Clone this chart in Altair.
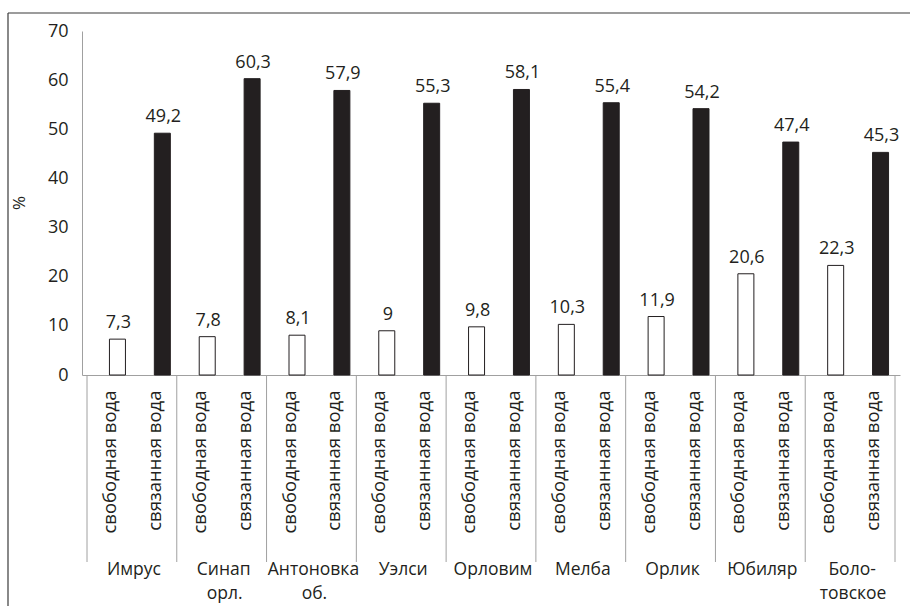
import altair as alt
import pandas as pd

# Apple varieties (two-line names use "\n")
varieties = ["Имрус", "Синап\nорл.", "Антоновка\nоб.", "Уэлси", "Орловим",
             "Мелба", "Орлик", "Юбиляр", "Боло-\nтовское"]
water_types = ["свободная вода", "связанная вода"]
free_water = [7.3, 7.8, 8.1, 9, 9.8, 10.3, 11.9, 20.6, 22.3]
bound_water = [49.2, 60.3, 57.9, 55.3, 58.1, 55.4, 54.2, 47.4, 45.3]

W, H = 818, 344
FONT = "Open Sans"
AXIS_GRAY = "#a0a0a0"
INK = "#231f20"

rows = []
for g, name in enumerate(varieties):
    for k, (wt, val) in enumerate(zip(water_types, (free_water[g], bound_water[g]))):
        rows.append({"pos": 2 * g + k + 0.5, "variety": name, "kind": wt, "value": val})
bars_df = pd.DataFrame(rows)

# variety names split into first and second line
name_lines = [v.split("\n") for v in varieties]
groups_df = pd.DataFrame({
    "center": [2 * g + 1 for g in range(len(varieties))],
    "line1": [p[0] for p in name_lines],
    "line2": [p[1] if len(p) > 1 else "" for p in name_lines],
})
seps_df = pd.DataFrame({"sep": [2 * g for g in range(len(varieties) + 1)]})

x_scale = alt.Scale(domain=[0, 2 * len(varieties)], nice=False, zero=False)
y_scale = alt.Scale(domain=[0, 70], nice=False)

# even slots hold free water, odd slots bound water
label_expr = "(floor(datum.value) % 2 == 0) ? 'свободная вода' : 'связанная вода'"

base = alt.Chart(bars_df)

bars = base.mark_bar(width=16, xOffset=8, stroke=INK, strokeWidth=1).encode(
    x=alt.X("pos:Q", scale=x_scale,
            axis=alt.Axis(values=[i + 0.5 for i in range(18)], labelExpr=label_expr,
                          labelAngle=-90, labelAlign="right", labelBaseline="middle",
                          labelPadding=15, ticks=False, grid=False, title=None,
                          domainColor=AXIS_GRAY, labelFont=FONT, labelFontSize=18.5,
                          labelColor=INK, labelOverlap=False)),
    y=alt.Y("value:Q", scale=y_scale,
            axis=alt.Axis(values=list(range(0, 80, 10)), ticks=False, grid=False,
                          title=None, domainColor=AXIS_GRAY, labelPadding=14,
                          labelFont=FONT, labelFontSize=18, labelColor=INK)),
    fill=alt.Fill("kind:N", scale=alt.Scale(domain=water_types, range=["white", INK]),
                  legend=None),
)

values = base.transform_calculate(
    label="replace(toString(datum.value), '.', ',')"
).mark_text(font=FONT, fontSize=18, color=INK, dx=9, dy=-11,
            baseline="alphabetic", align="center").encode(
    x=alt.X("pos:Q", scale=x_scale),
    y=alt.Y("value:Q", scale=y_scale),
    text="label:N",
)

separators = alt.Chart(seps_df).mark_rule(color=AXIS_GRAY, strokeWidth=1).encode(
    x=alt.X("sep:Q", scale=x_scale),
    y=alt.value(H),
    y2=alt.value(H + 187),
)

group_line1 = alt.Chart(groups_df).mark_text(
    font=FONT, fontSize=17.5, color=INK, baseline="alphabetic", align="center", dx=2,
).encode(
    x=alt.X("center:Q", scale=x_scale),
    y=alt.value(H + 200),
    text="line1:N",
)

group_line2 = alt.Chart(groups_df).mark_text(
    font=FONT, fontSize=17.5, color=INK, baseline="alphabetic", align="center", dx=3,
).encode(
    x=alt.X("center:Q", scale=x_scale),
    y=alt.value(H + 224),
    text="line2:N",
)

unit_title = alt.Chart(pd.DataFrame({"t": ["%"]})).mark_text(
    font=FONT, fontSize=17, color=INK, angle=270, align="center", baseline="middle"
).encode(x=alt.value(-62), y=alt.value(H / 2), text="t:N")

frame_left = alt.Chart(pd.DataFrame({"a": [0]})).mark_rule(color="#3a3a3a", strokeWidth=1.2).encode(
    x=alt.value(-74), y=alt.value(-18), y2=alt.value(H + 240))
frame_top = alt.Chart(pd.DataFrame({"a": [0]})).mark_rule(color="#3a3a3a", strokeWidth=1.2).encode(
    x=alt.value(-74), x2=alt.value(W + 10), y=alt.value(-18))

chart = alt.layer(
    separators, bars, values, group_line1, group_line2, unit_title, frame_left, frame_top
).properties(
    width=W, height=H,
    padding={"left": 82, "top": 31, "right": 11, "bottom": 231},
    autosize=alt.AutoSizeParams(type="none"),
    background="white",
).configure_view(stroke=None)

chart.save("out.html", embed_options={"renderer": "svg", "actions": False})
